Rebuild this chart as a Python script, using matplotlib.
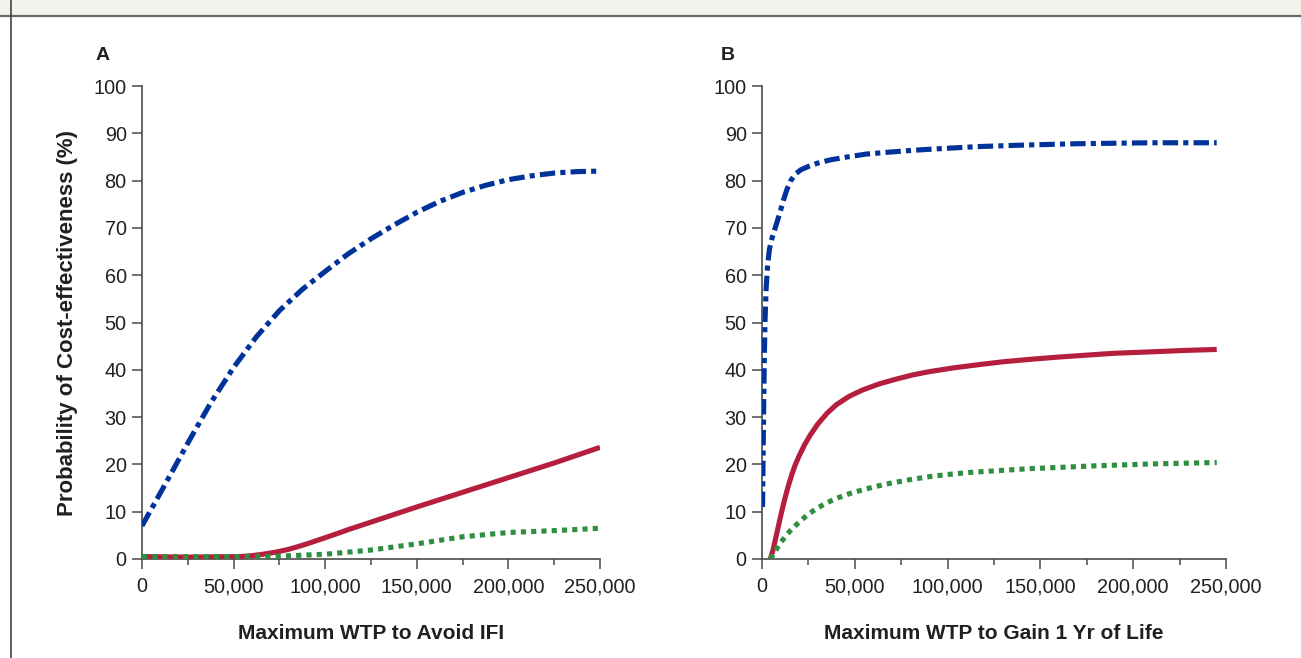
import matplotlib.pyplot as plt
from matplotlib.ticker import MultipleLocator, FuncFormatter
from matplotlib.lines import Line2D
from matplotlib.patches import Rectangle

plt.rcParams['font.family'] = ['Liberation Sans', 'DejaVu Sans']

# Panel A: WTP to avoid IFI
a_x_blue = [0, 12500, 25000, 37500, 50000, 62500, 75000, 87500, 100000, 112500, 125000,
            137500, 150000, 162500, 175000, 187500, 200000, 212500, 225000, 237500, 250000]
a_blue = [7, 15.7, 24.5, 33, 40.5, 47, 52.5, 57, 60.8, 64.5, 67.7,
          70.6, 73.3, 75.6, 77.5, 79, 80.2, 81, 81.6, 81.9, 82]
a_x_red = [0, 25000, 50000, 55000, 60000, 65000, 70000, 75000, 80000, 85000, 90000,
           95000, 100000, 106000, 112500, 125000, 150000, 175000, 200000, 225000, 250000]
a_red = [0.5, 0.4, 0.5, 0.55, 0.7, 0.95, 1.25, 1.6, 2.05, 2.6, 3.2,
         3.85, 4.5, 5.3, 6.2, 7.8, 11.0, 14.1, 17.2, 20.3, 23.6]
a_x_green = [0, 25000, 50000, 75000, 100000, 125000, 150000, 175000, 200000, 225000, 250000]
a_green = [0.5, 0.5, 0.5, 0.6, 1.0, 1.9, 3.2, 4.7, 5.6, 6.0, 6.5]

# Panel B: WTP to gain 1 year of life
b_x_blue = [300, 600, 900, 1200, 1600, 2200, 3000, 4000, 5500, 7500, 9500, 11500,
            13500, 15500, 18000, 21000, 25000, 30000, 37000, 46000, 56000, 68000,
            81000, 98000, 117000, 140000, 170000, 210000, 245000]
b_blue = [11, 22, 32, 41, 50, 57, 62, 65.5, 68, 70.5, 73, 75.8,
          78.2, 80, 81.4, 82.3, 83, 83.7, 84.4, 85, 85.6, 86,
          86.4, 86.8, 87.2, 87.5, 87.8, 88, 88]
b_x_red = [4500, 6000, 8000, 10000, 12000, 14000, 16000, 18000, 20000, 23000, 26000,
           30000, 35000, 40000, 47000, 54000, 63000, 72000, 81000, 90000, 103000,
           117000, 130000, 144000, 160000, 175000, 190000, 210000, 228000, 245000]
b_red = [0, 2, 5.5, 9, 12.3, 15.2, 17.8, 20, 21.8, 24.2, 26.2,
         28.5, 30.8, 32.6, 34.4, 35.7, 37, 38, 38.9, 39.6, 40.4,
         41.1, 41.7, 42.2, 42.7, 43.1, 43.5, 43.8, 44.1, 44.3]
b_x_green = [4500, 7000, 10000, 13000, 16000, 20000, 25000, 30000, 35000, 40000, 47000,
             54000, 62000, 69000, 80000, 90000, 101000, 112000, 128000, 144000, 162000,
             180000, 210000, 245000]
b_green = [0, 1.6, 3.4, 5, 6.3, 7.8, 9.5, 10.8, 11.9, 12.8, 13.8,
           14.6, 15.4, 16, 16.8, 17.4, 17.9, 18.3, 18.7, 19.1, 19.4,
           19.7, 20.1, 20.4]

x_ticks = [0, 50000, 100000, 150000, 200000, 250000]
y_ticks = list(range(0, 101, 10))

BLUE = "#00339a"
RED = "#b51f3d"
GREEN = "#2e8f40"
AXC = "#4a4a4a"
TXT = "#231f20"

fig = plt.figure(figsize=(13.01, 6.58), dpi=100)

# caption strip at top and frame line on the left
fig.patches.append(Rectangle((0, 1 - 15 / 658), 1, 15 / 658, transform=fig.transFigure,
                             facecolor="#f3f2ec", edgecolor="none", zorder=0))
fig.lines.append(Line2D([0, 1], [1 - 16 / 658] * 2, transform=fig.transFigure,
                        color="#666666", lw=1.6))
fig.lines.append(Line2D([11 / 1301] * 2, [0, 1], transform=fig.transFigure,
                        color="#444444", lw=1.2))

ax_a = fig.add_axes([142 / 1301, 99 / 658, 458 / 1301, 473 / 658])
ax_b = fig.add_axes([762 / 1301, 99 / 658, 464 / 1301, 473 / 658])

lw = 3.7
for ax, data, xlabel in [
    (ax_a, (a_x_blue, a_blue, a_x_red, a_red, a_x_green, a_green), "Maximum WTP to Avoid IFI"),
    (ax_b, (b_x_blue, b_blue, b_x_red, b_red, b_x_green, b_green), "Maximum WTP to Gain 1 Yr of Life"),
]:
    xb, yb, xr, yr, xg, yg = data
    ax.plot(xr, yr, color=RED, lw=lw, solid_capstyle="butt", solid_joinstyle="round", zorder=3)
    ax.plot(xg, yg, color=GREEN, lw=lw, dashes=(1, 1), dash_capstyle="butt", zorder=4)
    ax.plot(xb, yb, color=BLUE, lw=lw, dashes=(3, 1, 1, 1), dash_capstyle="butt", zorder=5)

    ax.set_xlim(0, 250000)
    ax.set_ylim(0, 100)
    for s in ["top", "right"]:
        ax.spines[s].set_visible(False)
    for s in ["left", "bottom"]:
        ax.spines[s].set_color(AXC)
        ax.spines[s].set_linewidth(1.2)

    ax.set_xticks(x_ticks)
    ax.xaxis.set_minor_locator(MultipleLocator(25000))
    ax.set_yticks(y_ticks)
    ax.xaxis.set_major_formatter(FuncFormatter(lambda v, p: f"{int(v):,}"))
    ax.tick_params(axis="both", which="major", direction="out", length=7, width=1.1,
                   color=AXC, labelcolor=TXT, labelsize=14.3)
    ax.tick_params(axis="x", which="major", pad=6)
    ax.tick_params(axis="y", which="major", pad=4)
    ax.tick_params(axis="x", which="minor", direction="out", length=4, width=1.1, color=AXC)

    ax.set_xlabel(xlabel, fontsize=15, fontweight="bold", color=TXT, labelpad=20)

fig.text(96 / 1301, 1 - 56 / 658, "A", fontsize=14, fontweight="bold", color=TXT,
         ha="left", va="center")
fig.text(721 / 1301, 1 - 56 / 658, "B", fontsize=14, fontweight="bold", color=TXT,
         ha="left", va="center")

ax_a.set_ylabel("Probability of Cost-effectiveness (%)", fontsize=16,
                fontweight="bold", color=TXT, labelpad=11)

fig.savefig("out.png", dpi=100)
